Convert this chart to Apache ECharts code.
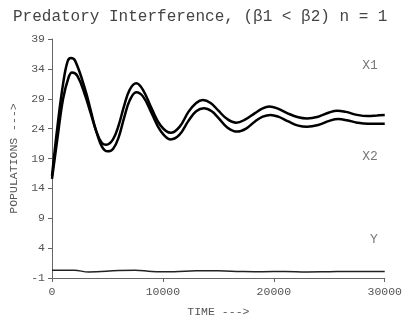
<!DOCTYPE html>
<html><head><meta charset="utf-8">
<script src="https://cdn.jsdelivr.net/npm/echarts@6/dist/echarts.min.js"></script>
<style>html,body{margin:0;padding:0;background:#fff}#c{width:405px;height:324px}</style>
</head><body><div id="c"></div>
<script>
const titleText = "Predatory Interference, (\u03B21 < \u03B22) n = 1";
const xTicks = [0, 10000, 20000, 30000];
const yTicks = [-1, 4, 9, 14, 19, 24, 29, 34, 39];
const seriesNames = ["X1", "X2", "Y"];
const timeX1 = [0,500,1000,1400,1700,2100,3000,3500,4000,4500,4900,5500,6000,6500,7000,7600,8200,9000,9800,10700,11500,12300,13000,13600,14300,15000,15800,16600,17400,18300,19000,19600,20300,21200,22200,23000,24000,25000,25700,26500,27500,28500,29300,30000];
const valX1 = [16.1,24.5,31.5,35.2,35.8,35.3,30.5,27,23.5,21.6,21.3,22.2,24.5,27.8,30.5,31.6,30.5,27.3,24.5,23.3,24.3,26.8,28.3,28.8,28.3,27.0,25.6,25.0,25.5,26.6,27.4,27.7,27.4,26.6,25.9,25.7,26.0,26.7,27.0,26.8,26.3,26.1,26.2,26.3];
const timeX2 = [0,500,1000,1500,1800,2300,3000,3500,4000,4500,5000,5500,6000,6500,7000,7600,8200,9000,9800,10700,11500,12300,13000,13700,14400,15000,15800,16700,17500,18300,19000,19700,20400,21300,22200,23000,24000,25000,25800,26600,27500,28500,29300,30000];
const valX2 = [15.6,22.5,29,32.6,33.4,32.8,29.5,26.5,23.5,21,20.2,20.6,22.5,25.8,28.7,30.1,29.4,26.5,23.6,22.2,23,25.3,26.9,27.4,26.9,25.8,24.2,23.5,24,25.2,26,26.3,26,25.2,24.5,24.3,24.6,25.3,25.6,25.4,25,24.8,24.8,24.8];
const timeY = [0,2000,3300,6000,7500,9000,11000,13000,15000,17000,19000,21000,23000,25000,27000,30000];
const valY = [0.3,0.3,0.0,0.25,0.3,0.1,0.05,0.2,0.2,0.1,0.05,0.1,0.0,0.05,0.1,0.1];
const labelPos = [[30000,34.5],[30000,19.3],[30000,5.4]];

const pair = (t, v) => t.map((x, i) => [x, v[i]]);
const font = "Liberation Mono";
const chart = echarts.init(document.getElementById('c'), null, {renderer: 'canvas'});
chart.setOption({
  animation: false,
  backgroundColor: '#fff',
  title: {text: titleText, left: 8, top: 4, textStyle: {fontFamily: font, fontSize: 16, fontWeight: 'normal', color: '#444'}},
  grid: {left: 48, right: 16, top: 39, bottom: 46},
  xAxis: {type: 'value', min: 0, max: 30000, interval: 10000,
    name: 'TIME --->', nameLocation: 'middle', nameGap: 28,
    nameTextStyle: {fontFamily: font, fontSize: 11.5, color: '#555'},
    axisLine: {show: true, onZero: false, lineStyle: {color: '#666', width: 1}},
    axisTick: {show: true, inside: false, length: 4, lineStyle: {color: '#666'}},
    axisLabel: {fontFamily: font, fontSize: 11.5, color: '#555', margin: 8, formatter: v => String(v)},
    splitLine: {show: false}},
  yAxis: {type: 'value', min: -1, max: 39, interval: 5,
    name: 'POPULATIONS --->', nameLocation: 'middle', nameGap: 32, nameRotate: 90,
    nameTextStyle: {fontFamily: font, fontSize: 11.5, color: '#555'},
    axisLine: {show: true, onZero: false, lineStyle: {color: '#666', width: 1}},
    axisTick: {show: true, length: 4, lineStyle: {color: '#666'}},
    axisLabel: {fontFamily: font, fontSize: 11.5, color: '#555', margin: 7, formatter: v => String(v)},
    splitLine: {show: false}},
  series: [
    {name: seriesNames[0], type: 'line', data: pair(timeX1, valX1), smooth: 0.4, showSymbol: false, lineStyle: {color: '#000', width: 2.5}},
    {name: seriesNames[1], type: 'line', data: pair(timeX2, valX2), smooth: 0.4, showSymbol: false, lineStyle: {color: '#000', width: 2.5}},
    {name: seriesNames[2], type: 'line', data: pair(timeY, valY), smooth: 0.4, showSymbol: false, lineStyle: {color: '#222', width: 1.5}},
    {type: 'scatter', symbolSize: 0, silent: true,
     data: labelPos.map((p, i) => ({value: p, label: {show: true, formatter: seriesNames[i]}})),
     label: {position: 'left', distance: 5, offset: [-2, 0], fontFamily: font, fontSize: 13, color: '#555'}}
  ]
});
</script></body></html>
